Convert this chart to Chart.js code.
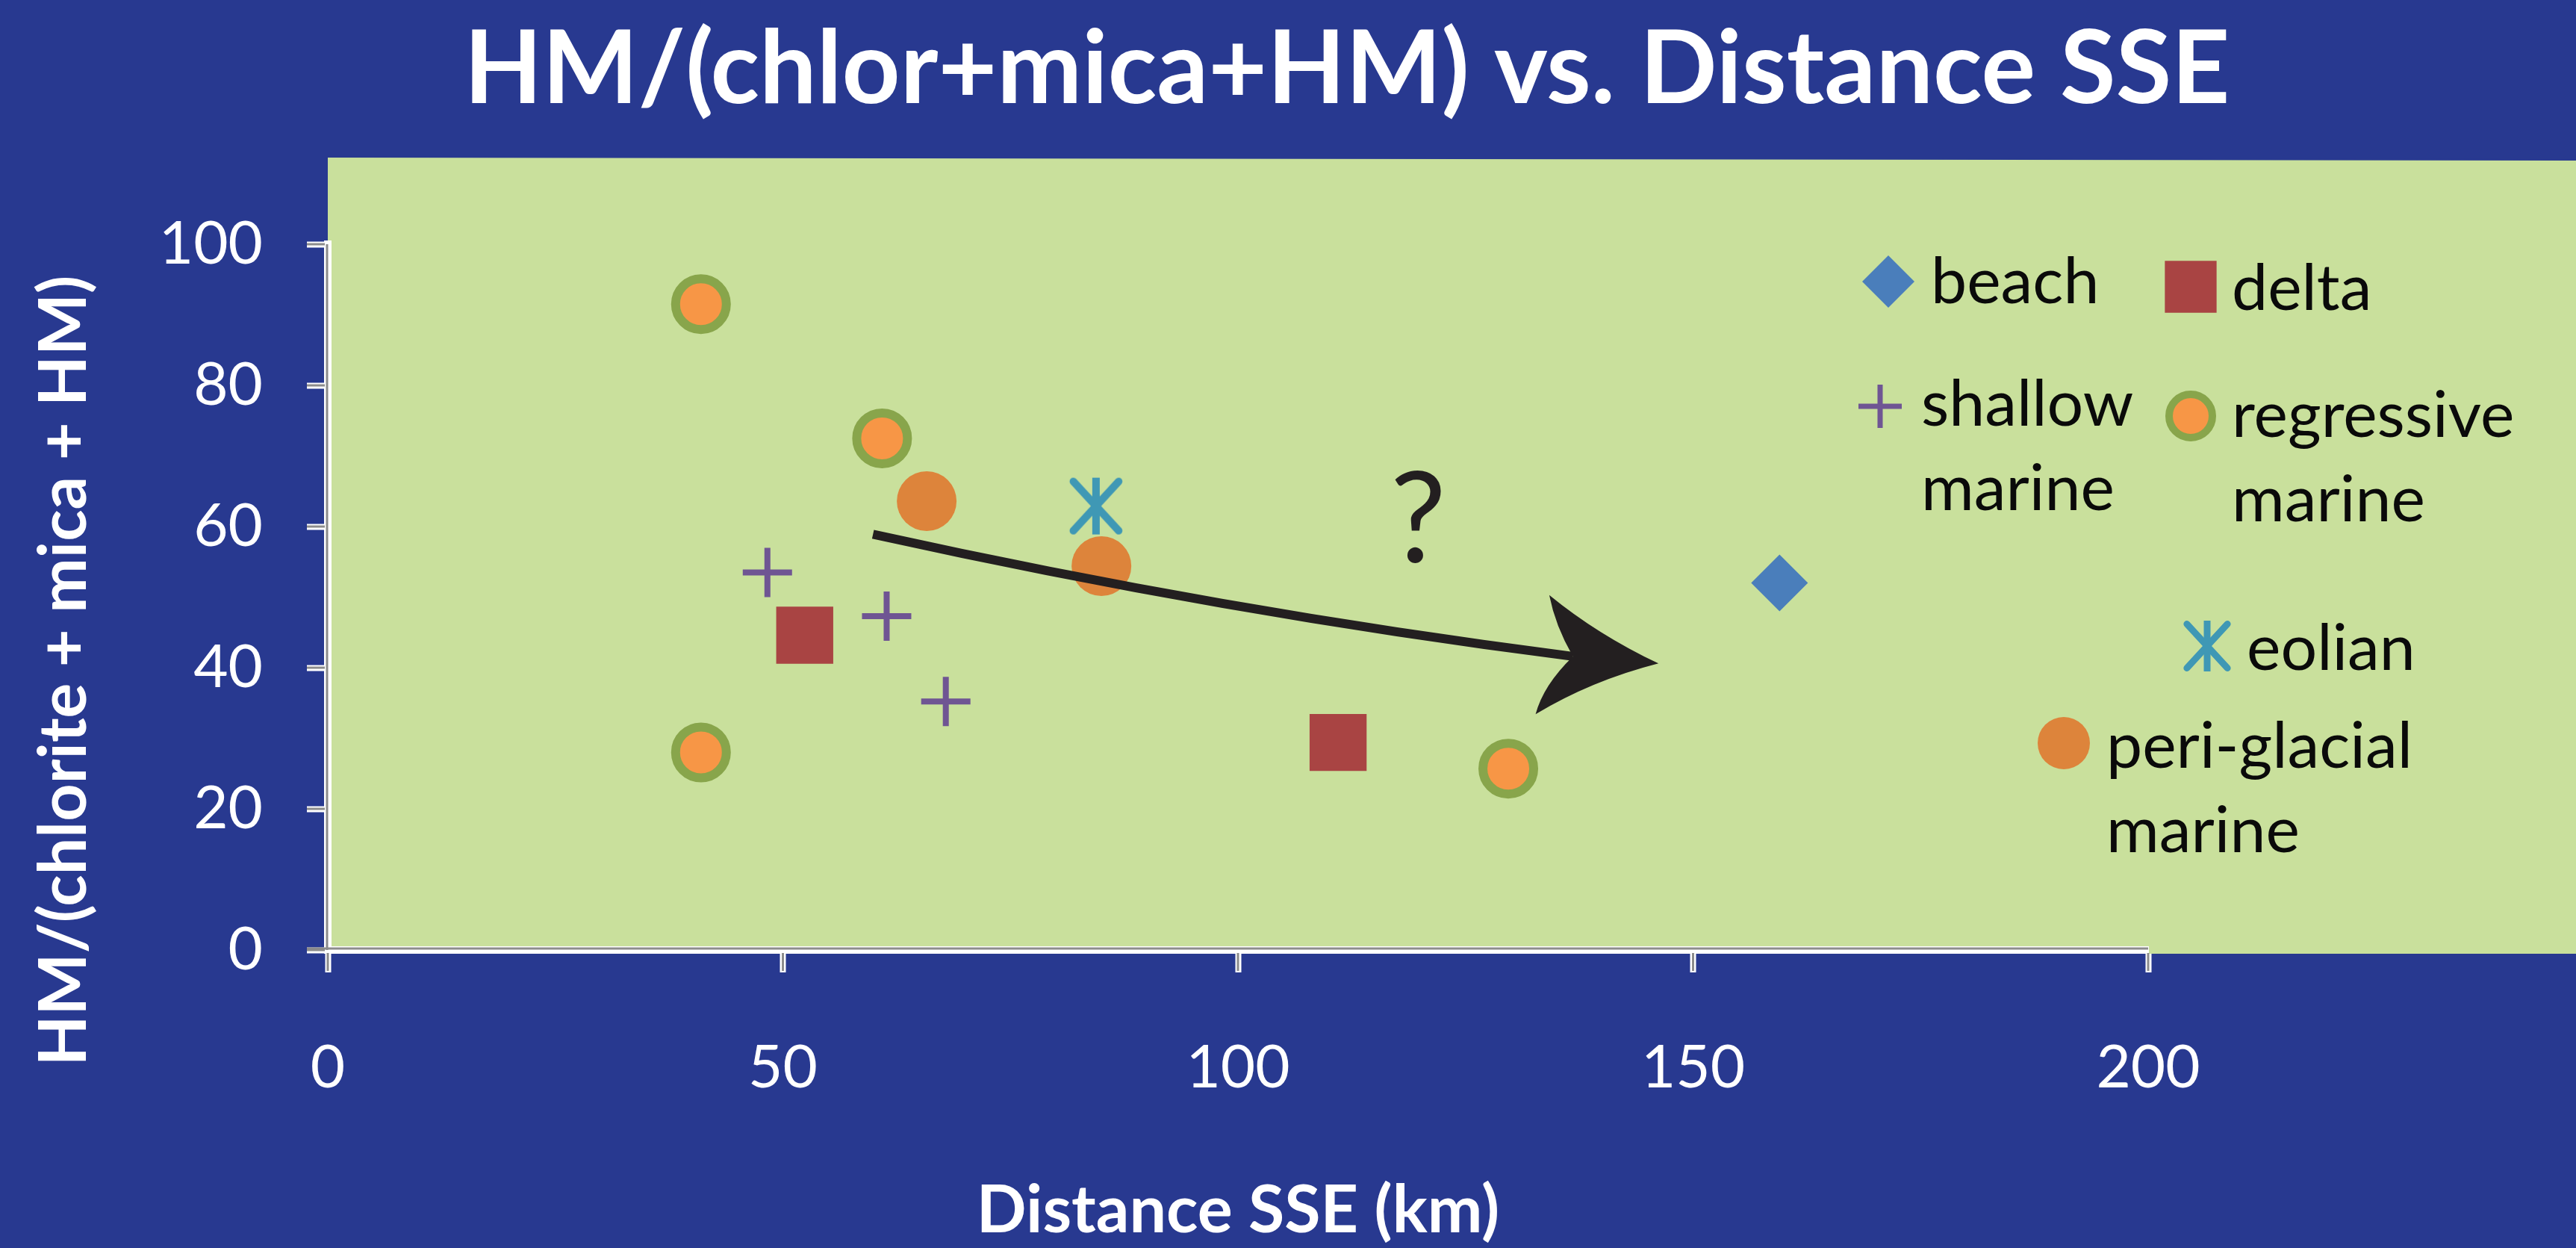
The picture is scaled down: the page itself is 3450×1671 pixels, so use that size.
<!DOCTYPE html>
<html>
<head>
<meta charset="utf-8">
<title>HM/(chlor+mica+HM) vs. Distance SSE</title>
<script src="https://cdn.jsdelivr.net/npm/chart.js@4.4.1/dist/chart.umd.min.js"></script>
<style>
  html, body { margin: 0; padding: 0; background: #283990; }
  #chart { display: block; }
</style>
</head>
<body>
<canvas id="chart" width="3450" height="1671"></canvas>
<script>
// values: x = distance SSE (km), y = HM/(chlorite+mica+HM)
const beachX = [159.5];
const beachY = [52.0];
const deltaX = [52.4, 111.0];
const deltaY = [44.6, 29.4];
const shallowX = [48.3, 61.4, 67.9];
const shallowY = [53.5, 47.3, 35.2];
const regressiveX = [41.0, 60.9, 41.0, 129.7];
const regressiveY = [91.5, 72.5, 28.0, 25.7];
const eolianX = [84.4];
const eolianY = [62.9];
const periX = [65.8, 85.0];
const periY = [63.6, 54.4];

const seriesNames = ['beach', 'delta', 'shallow marine', 'regressive marine', 'eolian', 'peri-glacial marine'];
const legendLines = [['beach'], ['delta'], ['shallow', 'marine'], ['regressive', 'marine'], ['eolian'], ['peri-glacial', 'marine']];
const xTicks = [0, 50, 100, 150, 200];
const yTicks = [0, 20, 40, 60, 80, 100];

const chartTitle = 'HM/(chlor+mica+HM) vs. Distance SSE';
const xTitle = 'Distance SSE (km)';
const yTitle = 'HM/(chlorite + mica + HM)';

// hand-drawn trend arrow and "?" (data units)
const arrowCurve = [[59.9, 58.9], [98.5, 47.9], [136.8, 41.6]];
const arrowHead = [[146.2, 40.6], [134.2, 50.3], [136.8, 41.6], [132.7, 33.4]]; // tip, upper barb, notch, lower barb
const questionAt = [119.8, 54.9];

// legend placement in canvas pixels (marker centre, marker size, text start, first baseline)
const legendLayout = [
  { mx: 2529, my: 377, r: 35, tx: 2586, ty: 406 },
  { mx: 2934, my: 384, r: 49, tx: 2989, ty: 415 },
  { mx: 2518, my: 544, r: 29, tx: 2573, ty: 570 },
  { mx: 2934, my: 557, r: 29, tx: 2989, ty: 585 },
  { mx: 2956, my: 865, r: 33, tx: 3009, ty: 897 },
  { mx: 2764, my: 995, r: 35, tx: 2821, ty: 1028 }
];

const BLUE = '#283990';
const GREEN = '#c9e09c';

const pts = (xs, ys) => xs.map((x, i) => ({ x: x, y: ys[i] }));

// excel-like asterisk marker: vertical bar plus an X
function asteriskMarker(size, lw, color) {
  const c = document.createElement('canvas');
  c.width = c.height = size;
  const g = c.getContext('2d');
  const h = size / 2 - lw / 2 - 1;
  g.translate(size / 2, size / 2);
  g.strokeStyle = color;
  g.lineWidth = lw;
  g.lineCap = 'round';
  g.beginPath();
  g.moveTo(-h * 0.92, -h); g.lineTo(h * 0.92, h);
  g.moveTo(-h * 0.92, h); g.lineTo(h * 0.92, -h);
  g.stroke();
  g.lineCap = 'butt';
  g.beginPath();
  g.moveTo(0, -h - lw / 2); g.lineTo(0, h + lw / 2);
  g.stroke();
  return c;
}

const starBig = asteriskMarker(78, 10, '#3f98b5');
const starSmall = asteriskMarker(70, 9, '#3f98b5');

const backdrop = {
  id: 'backdrop',
  beforeDraw(chart) {
    const { ctx, chartArea: ca, width, height } = chart;
    ctx.save();
    ctx.fillStyle = BLUE;
    ctx.fillRect(0, 0, width, height);
    ctx.fillStyle = GREEN;
    ctx.beginPath();
    ctx.moveTo(ca.left, ca.top - 116);
    ctx.lineTo(width, ca.top - 112);
    ctx.lineTo(width, ca.bottom + 5);
    ctx.lineTo(ca.left, ca.bottom + 5);
    ctx.closePath();
    ctx.fill();
    ctx.restore();
  }
};

const lerp = (a, b, t) => [a[0] + (b[0] - a[0]) * t, a[1] + (b[1] - a[1]) * t];

const extras = {
  id: 'extras',
  afterDatasetsDraw(chart) {
    const { ctx } = chart;
    const xs = chart.scales.x, ys = chart.scales.y;
    const px = p => [xs.getPixelForValue(p[0]), ys.getPixelForValue(p[1])];
    ctx.save();
    // arrow shaft
    const [s, c, e] = arrowCurve.map(px);
    ctx.strokeStyle = '#231f20';
    ctx.lineWidth = 12;
    ctx.beginPath();
    ctx.moveTo(s[0], s[1]);
    ctx.quadraticCurveTo(c[0], c[1], e[0], e[1]);
    ctx.stroke();
    // arrow head with slightly swept sides
    const [tip, up, notch, low] = arrowHead.map(px);
    const c1 = lerp(lerp(tip, up, 0.5), notch, 0.2);
    const c2 = lerp(lerp(low, tip, 0.5), notch, 0.25);
    ctx.fillStyle = '#231f20';
    ctx.beginPath();
    ctx.moveTo(tip[0], tip[1]);
    ctx.quadraticCurveTo(c1[0], c1[1], up[0], up[1]);
    ctx.quadraticCurveTo(up[0] + 8, (up[1] + notch[1]) / 2, notch[0], notch[1]);
    ctx.quadraticCurveTo(low[0] + 10, (low[1] + notch[1]) / 2, low[0], low[1]);
    ctx.quadraticCurveTo(c2[0], c2[1], tip[0], tip[1]);
    ctx.closePath();
    ctx.fill();
    // question mark
    const q = px(questionAt);
    ctx.font = '168px Lato';
    ctx.textAlign = 'center';
    ctx.textBaseline = 'alphabetic';
    ctx.fillText('?', q[0], q[1]);
    ctx.restore();
  },
  afterDraw(chart) {
    const { ctx, chartArea: ca } = chart;
    const xs = chart.scales.x, ys = chart.scales.y;
    ctx.save();

    // grey core of the white axis lines and ticks
    ctx.strokeStyle = '#8c8c8c';
    ctx.lineWidth = 3;
    ctx.beginPath();
    ctx.moveTo(ca.left - 1, ca.top);
    ctx.lineTo(ca.left - 1, ca.bottom);
    ctx.moveTo(ca.left - 28, ca.bottom - 2);
    ctx.lineTo(ca.right, ca.bottom - 2);
    xTicks.forEach(v => {
      const x = xs.getPixelForValue(v);
      ctx.moveTo(x, ca.bottom + 4);
      ctx.lineTo(x, ca.bottom + 28);
    });
    yTicks.forEach(v => {
      const y = ys.getPixelForValue(v);
      ctx.moveTo(ca.left - 28, y);
      ctx.lineTo(ca.left - 4, y);
    });
    ctx.stroke();

    // chart title
    ctx.fillStyle = '#ffffff';
    ctx.textAlign = 'center';
    ctx.textBaseline = 'alphabetic';
    ctx.font = 'bold 100px Lato';
    const tw = ctx.measureText(chartTitle).width;
    ctx.font = 'bold ' + Math.round(100 * 2358 / tw) + 'px Lato';
    ctx.fillText(chartTitle, 1804, 138);

    // axis titles
    ctx.font = 'bold 88px Lato';
    ctx.fillText(xTitle, (ca.left + ca.right) / 2, 1650);
    ctx.save();
    ctx.translate(115, 898);
    ctx.rotate(-Math.PI / 2);
    ctx.fillText(yTitle, 0, 0);
    ctx.restore();

    // legend
    const draw = Chart.helpers && Chart.helpers.drawPoint;
    chart.data.datasets.forEach((ds, i) => {
      const L = legendLayout[i];
      const scale = L.r / ds.pointRadius;
      const bw = Math.max(0, Math.round((ds.pointBorderWidth || 0) * scale));
      ctx.fillStyle = ds.pointBackgroundColor;
      ctx.strokeStyle = ds.pointBorderColor;
      ctx.lineWidth = bw;
      const style = ds.pointStyle === starBig ? starSmall : ds.pointStyle;
      if (draw) draw(ctx, { pointStyle: style, radius: L.r, rotation: 0, borderWidth: bw }, L.mx, L.my);
      ctx.fillStyle = '#0a0a0a';
      ctx.textAlign = 'left';
      ctx.font = '86px Lato';
      legendLines[i].forEach((line, k) => ctx.fillText(line, L.tx, L.ty + k * 113));
    });
    ctx.restore();
  }
};

function build() {
  const tickFont = { family: 'Lato', size: 80 };
  new Chart(document.getElementById('chart'), {
    type: 'scatter',
    data: {
      datasets: [
        { label: seriesNames[0], data: pts(beachX, beachY), pointStyle: 'rectRot', pointRadius: 38,
          pointBackgroundColor: '#4a7ebb', pointBorderColor: '#4a7ebb', pointBorderWidth: 0 },
        { label: seriesNames[1], data: pts(deltaX, deltaY), pointStyle: 'rect', pointRadius: 54,
          pointBackgroundColor: '#a94443', pointBorderColor: '#a94443', pointBorderWidth: 0 },
        { label: seriesNames[2], data: pts(shallowX, shallowY), pointStyle: 'cross', pointRadius: 33,
          pointBackgroundColor: '#6f5593', pointBorderColor: '#6f5593', pointBorderWidth: 8 },
        { label: seriesNames[3], data: pts(regressiveX, regressiveY), pointStyle: 'circle', pointRadius: 34,
          pointBackgroundColor: '#f79646', pointBorderColor: '#88a54b', pointBorderWidth: 12 },
        { label: seriesNames[4], data: pts(eolianX, eolianY), pointStyle: starBig, pointRadius: 37,
          pointBackgroundColor: '#3f98b5', pointBorderColor: '#3f98b5', pointBorderWidth: 0 },
        { label: seriesNames[5], data: pts(periX, periY), pointStyle: 'circle', pointRadius: 40,
          pointBackgroundColor: '#dd843b', pointBorderColor: '#dd843b', pointBorderWidth: 0 }
      ]
    },
    options: {
      responsive: false,
      animation: false,
      events: [],
      layout: { padding: { top: 327, right: 573, left: 0, bottom: 0 } },
      plugins: { legend: { display: false }, title: { display: false }, tooltip: { enabled: false } },
      scales: {
        x: {
          type: 'linear', min: 0, max: 200,
          afterBuildTicks: s => { s.ticks = xTicks.map(v => ({ value: v })); },
          afterFit: s => { s.height = 1671 - 1272; },
          ticks: { color: '#ffffff', font: tickFont, padding: 80 },
          grid: { drawOnChartArea: false, tickLength: 30, tickWidth: 8, tickColor: '#ffffff' },
          border: { color: '#ffffff', width: 10 }
        },
        y: {
          type: 'linear', min: 0, max: 100,
          afterBuildTicks: s => { s.ticks = yTicks.map(v => ({ value: v })); },
          afterFit: s => { s.width = 439; },
          ticks: { color: '#ffffff', font: tickFont, padding: 59 },
          grid: { drawOnChartArea: false, tickLength: 28, tickWidth: 8, tickColor: '#ffffff' },
          border: { color: '#ffffff', width: 10 }
        }
      }
    },
    plugins: [backdrop, extras]
  });
}

Promise.all([
  document.fonts.load('80px Lato'),
  document.fonts.load('bold 88px Lato')
]).catch(() => {}).then(build);
</script>
</body>
</html>
